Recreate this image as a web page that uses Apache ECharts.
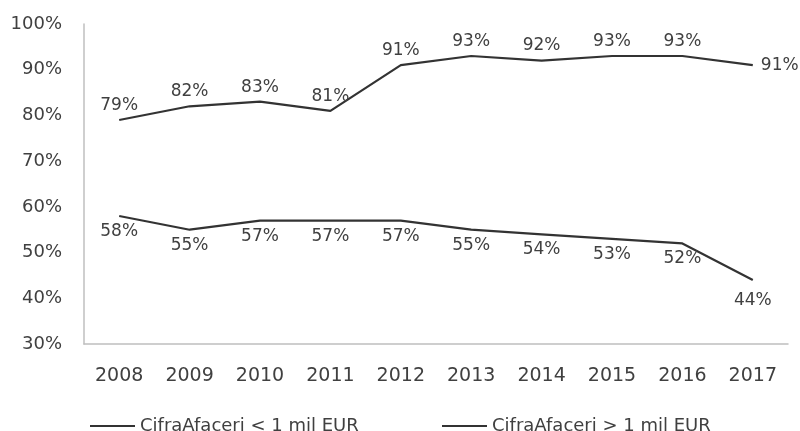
<!DOCTYPE html>
<html>
<head>
<meta charset="utf-8">
<script src="https://cdn.jsdelivr.net/npm/echarts@6/dist/echarts.min.js"></script>
<style>html,body{margin:0;padding:0;background:#fff}#c{width:800px;height:431px}</style>
</head>
<body>
<div id="c"></div>
<script>
var years = ['2008','2009','2010','2011','2012','2013','2014','2015','2016','2017'];
var seriesNames = ['CifraAfaceri < 1 mil EUR', 'CifraAfaceri > 1 mil EUR'];
var small = [79, 82, 83, 81, 91, 93, 92, 93, 93, 91];
var large = [58, 55, 57, 57, 57, 55, 54, 53, 52, 44];

var font = 'DejaVu Sans';
var textColor = '#404040';
var lineColor = '#333333';

function items(vals, pos, lastPos, dist, lastDist) {
  return vals.map(function (v, i) {
    var last = i === vals.length - 1;
    return {
      value: v,
      label: { position: last ? lastPos : pos, distance: last ? lastDist : dist }
    };
  });
}

var chart = echarts.init(document.getElementById('c'));
chart.setOption({
  animation: false,
  grid: { left: 84, right: 12, top: 24, bottom: 87 },
  xAxis: {
    type: 'category',
    data: years,
    boundaryGap: true,
    axisLine: { lineStyle: { color: '#bfbfbf', width: 1.5 } },
    axisTick: { show: false },
    axisLabel: { color: textColor, fontFamily: font, fontSize: 19, margin: 23 }
  },
  yAxis: {
    type: 'value',
    min: 30, max: 100, interval: 10,
    axisLine: { show: true, lineStyle: { color: '#bfbfbf', width: 1.5 } },
    axisTick: { show: false },
    splitLine: { show: false },
    axisLabel: { color: textColor, fontFamily: font, fontSize: 18, margin: 22, formatter: '{value}%' }
  },
  legend: [
    {
      data: [seriesNames[0]], left: 85, top: 412,
      icon: 'rect', itemWidth: 45, itemHeight: 2, itemGap: 4,
      textStyle: { color: textColor, fontFamily: font, fontSize: 18 }
    },
    {
      data: [seriesNames[1]], left: 437, top: 412,
      icon: 'rect', itemWidth: 45, itemHeight: 2,
      textStyle: { color: textColor, fontFamily: font, fontSize: 18 }
    }
  ],
  series: [
    {
      name: seriesNames[0], type: 'line',
      data: items(small, 'top', 'right', 6, 8),
      symbol: 'circle', symbolSize: 0.1,
      lineStyle: { color: lineColor, width: 2.2 },
      itemStyle: { color: lineColor },
      label: { show: true, formatter: '{c}%', color: textColor, fontFamily: font, fontSize: 17 }
    },
    {
      name: seriesNames[1], type: 'line',
      data: items(large, 'bottom', 'bottom', 7, 12),
      symbol: 'circle', symbolSize: 0.1,
      lineStyle: { color: lineColor, width: 2.2 },
      itemStyle: { color: lineColor },
      label: { show: true, formatter: '{c}%', color: textColor, fontFamily: font, fontSize: 17 }
    }
  ]
});
</script>
</body>
</html>
